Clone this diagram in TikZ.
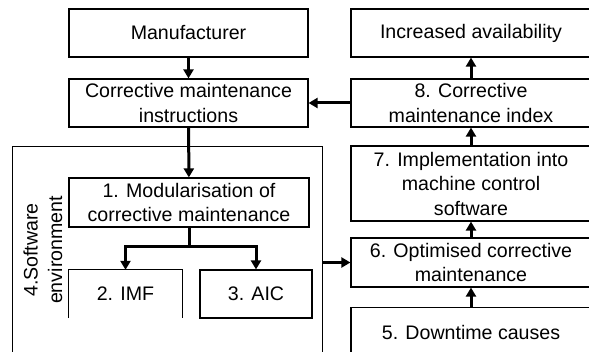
\documentclass[tikz,border=0pt]{standalone}
\usepackage{fontspec}
\setmainfont{Liberation Sans}
\usetikzlibrary{arrows.meta}
\begin{document}
\begin{tikzpicture}[x=1pt,y=-1pt,
  every node/.style={font=\fontsize{19.6}{24.5}\selectfont, align=center, inner sep=0pt},
  conn/.style={line width=3pt, -{Triangle[length=9pt,width=10pt]}},
  plain/.style={line width=3pt},
  frame/.style={draw, line width=1.2pt}]
\useasboundingbox (0,0) rectangle (589,352);
\fill[white] (0,0) rectangle (589,352);
% software environment frame
\node[frame, minimum width=310pt, minimum height=220pt, anchor=north west] (sw) at (12,146) {};
\node[rotate=90] (swt) at (43,250) {4.Software\\environment};
% left column
\node[frame, minimum width=239pt, minimum height=48pt] (man) at (188.5,33) {Manufacturer};
\node[frame, minimum width=239pt, minimum height=48pt] (cmi) at (188.5,103) {Corrective maintenance\\instructions};
\node[frame, minimum width=240pt, minimum height=49pt] (m1) at (189,202.5) {1. Modularisation of\\corrective maintenance};
\node[minimum width=113pt, minimum height=48pt] (imf) at (125.5,294) {2. IMF};
\draw[line width=1.2pt] (imf.south west) -- (imf.north west) -- (imf.north east) -- (imf.south east);
\node[frame, minimum width=112pt, minimum height=48pt] (aic) at (256,294) {3. AIC};
% right column
\node[frame, minimum width=240pt, minimum height=48pt] (inc) at (471,33) {Increased availability};
\node[frame, minimum width=240pt, minimum height=48pt] (b8) at (471,103) {8. Corrective\\maintenance index};
\node[frame, minimum width=240pt, minimum height=75pt] (b7) at (471,183.5) {7. Implementation into\\machine control\\software};
\node[frame, minimum width=240pt, minimum height=49pt] (b6) at (471,262.5) {6. Optimised corrective\\maintenance};
\node[frame, minimum width=240pt, minimum height=52pt, anchor=north] (b5) at (471,307) {};
\node (b5t) at (471,332) {5. Downtime causes};
% connectors
\draw[conn] (man) -- (cmi);
\draw[conn] (cmi) -- (m1);
\coordinate (br) at (189,247);
\draw[plain] (m1.south) -- (br);
\draw[conn] (br) -| (imf.north);
\draw[conn] (br) -| (aic.north);
\draw[conn] (b8.west) -- (cmi.east);
\draw[conn] (b8) -- (inc);
\draw[conn] (b7) -- (b8);
\draw[conn] (b6) -- (b7);
\draw[conn] (b5) -- (b6);
\draw[conn] (sw.east |- b6.west) -- (b6.west);
\end{tikzpicture}
\end{document}
